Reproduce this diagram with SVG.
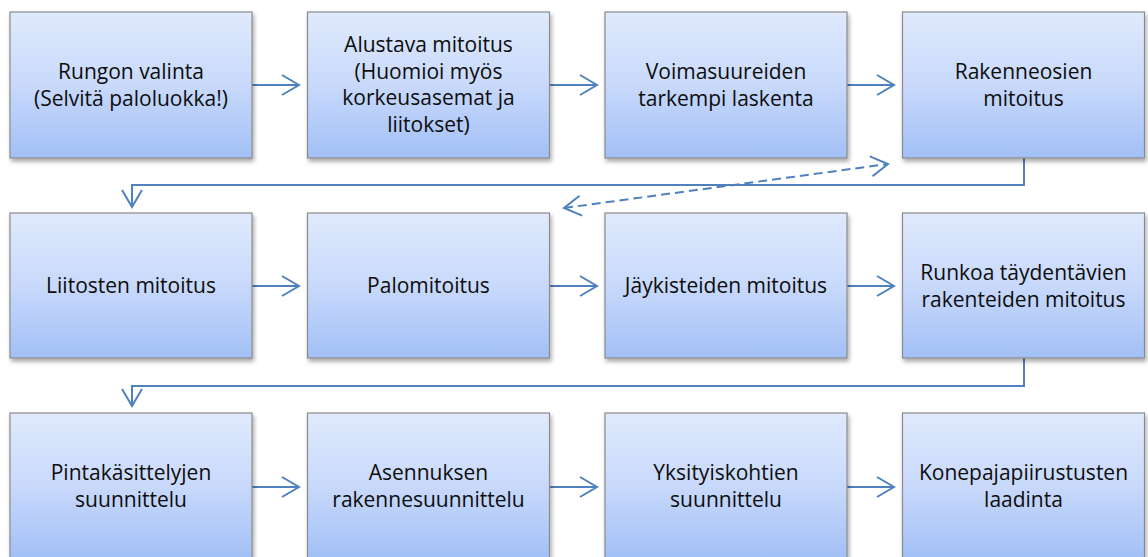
<svg xmlns="http://www.w3.org/2000/svg" width="1148" height="557" viewBox="0 0 1148 557">
<defs>
<linearGradient id="g" x1="0" y1="0" x2="0" y2="1">
<stop offset="0" stop-color="#e0eafc"/>
<stop offset="0.5" stop-color="#c8d9fb"/>
<stop offset="1" stop-color="#a2c0f6"/>
</linearGradient>
<filter id="sh" x="-10%" y="-10%" width="125%" height="130%">
<feDropShadow dx="1.5" dy="3" stdDeviation="2.2" flood-color="#000" flood-opacity="0.35"/>
</filter>
<marker id="ah" markerUnits="userSpaceOnUse" markerWidth="24" markerHeight="24" viewBox="-20 -12 24 24" refX="0" refY="0" orient="auto-start-reverse">
<path d="M-17,-10 L0,0 L-17,10" fill="none" stroke="#4f81bd" stroke-width="2"/>
</marker>
</defs>
<style>
.box{fill:url(#g);stroke:#8a8a8a;stroke-width:1.2;filter:url(#sh)}
.t{font-family:"Open Sans","Liberation Sans",sans-serif;font-size:21px;fill:#0d0d0d;text-anchor:middle}
.c{fill:none;stroke:#4f81bd;stroke-width:2}
.d{stroke-dasharray:9 5}
</style>
<g id="connectors">
<line class="c" x1="252" y1="85" x2="299" y2="85" marker-end="url(#ah)"/>
<line class="c" x1="550" y1="85" x2="597" y2="85" marker-end="url(#ah)"/>
<line class="c" x1="847" y1="85" x2="894" y2="85" marker-end="url(#ah)"/>
<polyline class="c" points="1024,158 1024,185 132,185 132,207" marker-end="url(#ah)"/>
<line class="c d" x1="564" y1="208" x2="888" y2="164" marker-start="url(#ah)" marker-end="url(#ah)"/>
<line class="c" x1="252" y1="286" x2="299" y2="286" marker-end="url(#ah)"/>
<line class="c" x1="550" y1="286" x2="597" y2="286" marker-end="url(#ah)"/>
<line class="c" x1="847" y1="286" x2="894" y2="286" marker-end="url(#ah)"/>
<polyline class="c" points="1024,358 1024,386 132,386 132,406" marker-end="url(#ah)"/>
<line class="c" x1="252" y1="487" x2="299" y2="487" marker-end="url(#ah)"/>
<line class="c" x1="550" y1="487" x2="597" y2="487" marker-end="url(#ah)"/>
<line class="c" x1="847" y1="487" x2="894" y2="487" marker-end="url(#ah)"/>
</g>
<g id="n1"><rect class="box" x="10" y="12" width="242" height="146"/><text class="t" x="131" y="79">Rungon valinta</text><text class="t" x="131" y="106">(Selvitä paloluokka!)</text></g>
<g id="n2"><rect class="box" x="307.5" y="12" width="242" height="146"/><text class="t" x="428.5" y="52">Alustava mitoitus</text><text class="t" x="428.5" y="78.5">(Huomioi myös</text><text class="t" x="428.5" y="105">korkeusasemat ja</text><text class="t" x="428.5" y="131.5">liitokset)</text></g>
<g id="n3"><rect class="box" x="605" y="12" width="242" height="146"/><text class="t" x="726" y="79">Voimasuureiden</text><text class="t" x="726" y="105.5">tarkempi laskenta</text></g>
<g id="n4"><rect class="box" x="902.5" y="12" width="242" height="146"/><text class="t" x="1023.5" y="79">Rakenneosien</text><text class="t" x="1023.5" y="105.5">mitoitus</text></g>
<g id="n5"><rect class="box" x="10" y="213" width="242" height="145"/><text class="t" x="131" y="292.5">Liitosten mitoitus</text></g>
<g id="n6"><rect class="box" x="307.5" y="213" width="242" height="145"/><text class="t" x="428.5" y="292.5">Palomitoitus</text></g>
<g id="n7"><rect class="box" x="605" y="213" width="242" height="145"/><text class="t" x="726" y="292.5">Jäykisteiden mitoitus</text></g>
<g id="n8"><rect class="box" x="902.5" y="213" width="242" height="145"/><text class="t" x="1023.5" y="280">Runkoa täydentävien</text><text class="t" x="1023.5" y="306.5">rakenteiden mitoitus</text></g>
<g id="n9"><rect class="box" x="10" y="413" width="242" height="146"/><text class="t" x="131" y="480">Pintakäsittelyjen</text><text class="t" x="131" y="506.5">suunnittelu</text></g>
<g id="n10"><rect class="box" x="307.5" y="413" width="242" height="146"/><text class="t" x="428.5" y="480">Asennuksen</text><text class="t" x="428.5" y="506.5">rakennesuunnittelu</text></g>
<g id="n11"><rect class="box" x="605" y="413" width="242" height="146"/><text class="t" x="726" y="480">Yksityiskohtien</text><text class="t" x="726" y="506.5">suunnittelu</text></g>
<g id="n12"><rect class="box" x="902.5" y="413" width="242" height="146"/><text class="t" x="1023.5" y="480">Konepajapiirustusten</text><text class="t" x="1023.5" y="506.5">laadinta</text></g>
</svg>
